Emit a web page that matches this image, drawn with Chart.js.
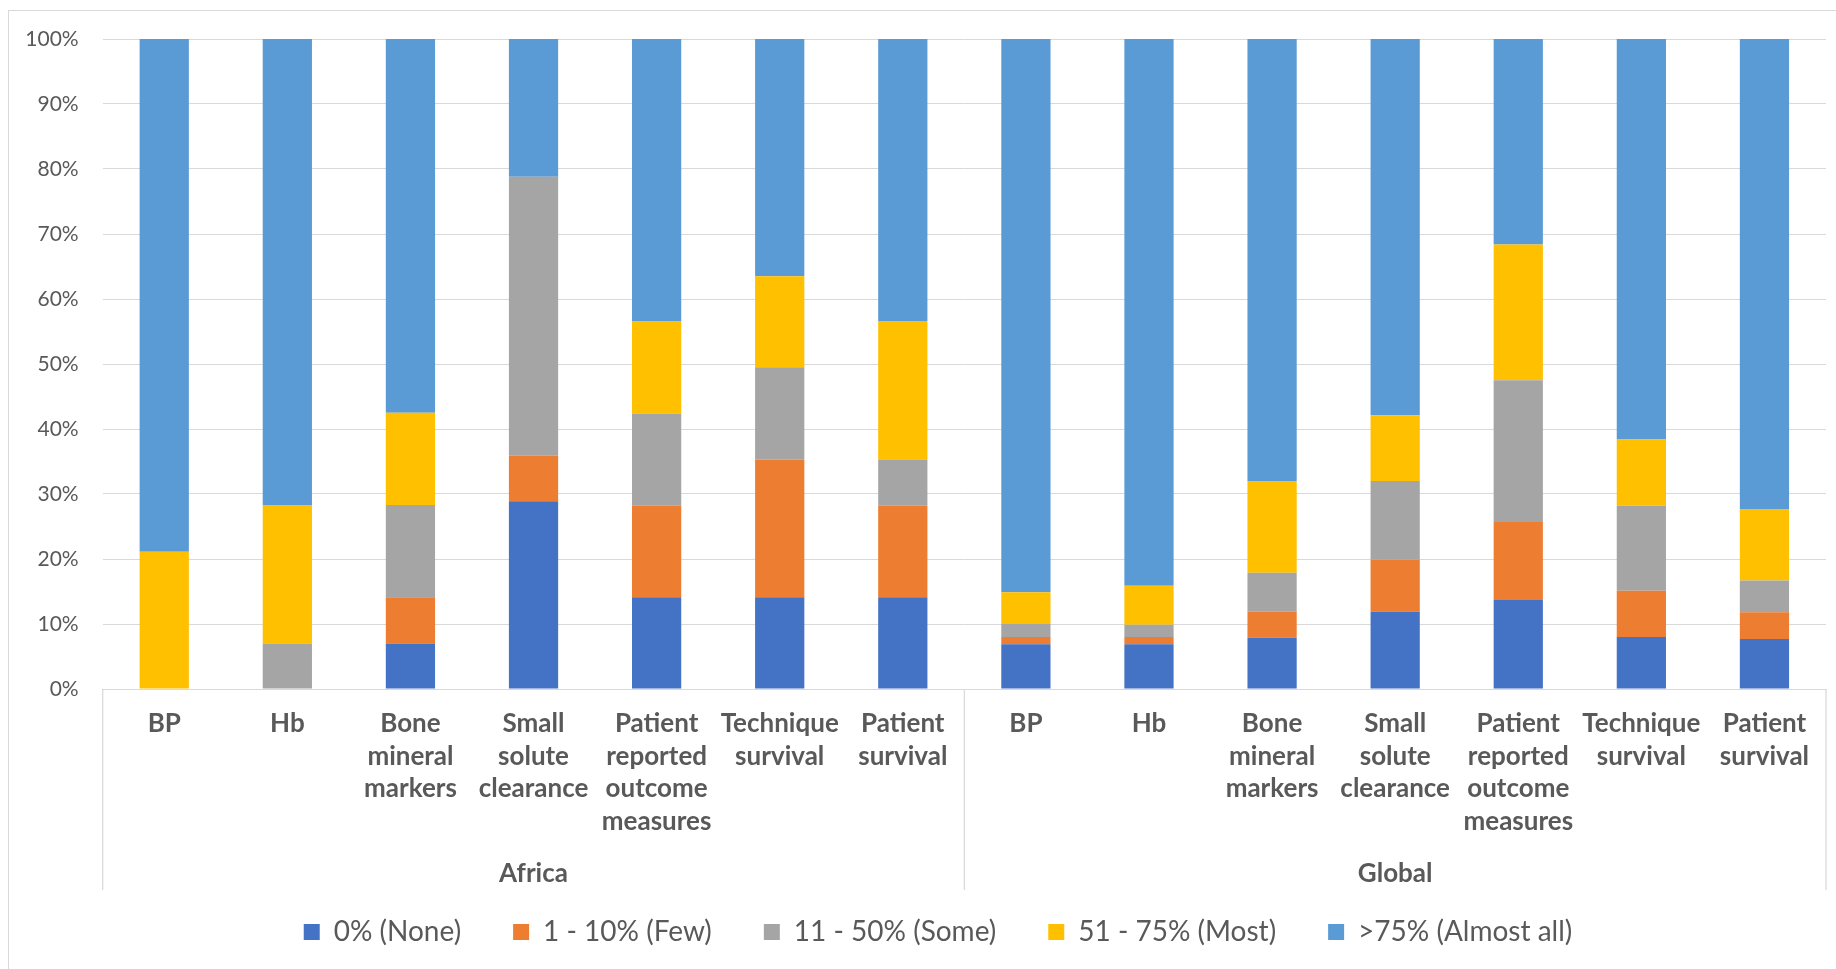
<!DOCTYPE html>
<html>
<head>
<meta charset="utf-8">
<script src="https://cdn.jsdelivr.net/npm/chart.js@4/dist/chart.umd.min.js"></script>
<style>
  html, body { margin: 0; padding: 0; background: #ffffff; overflow: hidden; }
  #frame { position: absolute; left: 8px; top: 10px; width: 1900px; height: 1000px; border: 1px solid #d9d9d9; box-sizing: border-box; }
  #c { position: absolute; left: 0; top: 0; }
</style>
</head>
<body>
<div id="frame"></div>
<canvas id="c" width="1836" height="969"></canvas>
<script>
// Categories (repeated for each region)
const categories = [
  ['BP'],
  ['Hb'],
  ['Bone', 'mineral', 'markers'],
  ['Small', 'solute', 'clearance'],
  ['Patient', 'reported', 'outcome', 'measures'],
  ['Technique', 'survival'],
  ['Patient', 'survival']
];
const regions = ['Africa', 'Global'];

const seriesNames = ['0% (None)', '1 - 10% (Few)', '11 - 50% (Some)', '51 - 75% (Most)', '>75% (Almost all)'];

// Values (%): first 7 = Africa, last 7 = Global
const none     = [0,    0,    7.0,  28.9, 14.1, 14.1, 14.1,   6.9, 6.9, 7.9, 11.9, 13.7, 8.0, 7.7];
const few      = [0,    0,    7.1,  7.0,  14.1, 21.2, 14.1,   1.1, 1.1, 4.0, 8.0,  12.0, 7.1, 4.1];
const some     = [0,    7.0,  14.2, 42.9, 14.2, 14.2, 7.1,    2.0, 1.9, 6.0, 12.1, 21.8, 13.1, 4.9];
const most     = [21.1, 21.3, 14.2, 0,    14.2, 14.0, 21.3,   4.9, 6.0, 14.1, 10.1, 20.9, 10.2, 11.0];
const almostAll= [78.9, 71.7, 57.5, 21.2, 43.4, 36.5, 43.4,   85.1, 84.1, 68.0, 57.9, 31.6, 61.6, 72.3];

const yTicks = [0, 10, 20, 30, 40, 50, 60, 70, 80, 90, 100];

const colors = ['#4472C4', '#ED7D31', '#A5A5A5', '#FFC000', '#5B9BD5'];
const seriesValues = [none, few, some, most, almostAll];

const labels = regions.flatMap(() => categories);

// Vertical separators of the two-level category axis
const separatorPlugin = {
  id: 'groupSeparators',
  afterDraw(chart) {
    const x = chart.scales.x;
    const x2 = chart.scales.x2;
    const area = chart.chartArea;
    const ctx = chart.ctx;
    const half = categories.length;
    const mid = (x.getPixelForValue(half - 1) + x.getPixelForValue(half)) / 2;
    ctx.save();
    ctx.strokeStyle = '#d9d9d9';
    ctx.lineWidth = 1.25;
    [x.left, mid, x.right].forEach(px => {
      ctx.beginPath();
      ctx.moveTo(px, area.bottom);
      ctx.lineTo(px, x2.bottom - 1);
      ctx.stroke();
    });
    ctx.restore();
  }
};

// Nudge the legend box to sit where the reference legend sits
const legendPlacement = {
  id: 'legendPlacement',
  afterLayout(chart) {
    const lg = chart.legend;
    if (!lg) return;
    lg.top -= 25; lg.bottom -= 25;
    lg.left += 25; lg.right += 25;
  }
};

Chart.defaults.font.family = 'Lato, "Liberation Sans", sans-serif';

new Chart(document.getElementById('c'), {
  type: 'bar',
  data: {
    labels: labels,
    datasets: seriesValues.map((vals, i) => ({
      label: seriesNames[i],
      data: vals,
      backgroundColor: colors[i],
      borderWidth: 0,
      barPercentage: 0.4,
      categoryPercentage: 1.0
    }))
  },
  options: {
    responsive: false,
    animation: false,
    devicePixelRatio: 1,
    layout: { padding: { top: 39, right: 10, bottom: -12, left: 0 } },
    plugins: {
      tooltip: { enabled: false },
      legend: {
        position: 'bottom',
        labels: {
          boxWidth: 16,
          boxHeight: 16,
          padding: 52,
          color: '#595959',
          font: { size: 28 }
        }
      }
    },
    scales: {
      x: {
        stacked: true,
        weight: 0,
        grid: { display: false, drawTicks: false },
        border: { display: true, color: '#d9d9d9', width: 1 },
        ticks: {
          autoSkip: false,
          maxRotation: 0,
          minRotation: 0,
          padding: 18,
          color: '#595959',
          font: { size: 26, weight: 'bold', lineHeight: 1.26 }
        },
        afterFit(scale) { scale.height = 167; }
      },
      x2: {
        type: 'category',
        position: 'bottom',
        weight: 1,
        labels: regions,
        offset: true,
        grid: { display: false, drawTicks: false },
        border: { display: false },
        ticks: {
          padding: 2,
          color: '#595959',
          font: { size: 26, weight: 'bold', lineHeight: 1.2 }
        },
        afterFit(scale) { scale.height = 35; }
      },
      y: {
        stacked: true,
        min: 0,
        max: 100,
        grid: { color: '#d9d9d9', lineWidth: 1, drawTicks: false },
        border: { display: false },
        ticks: {
          stepSize: 10,
          padding: 24,
          color: '#595959',
          font: { size: 21 },
          callback: (v) => yTicks.includes(v) ? v + '%' : ''
        },
        afterFit(scale) { scale.width = 102.7; }
      }
    }
  },
  plugins: [separatorPlugin, legendPlacement]
});
</script>
</body>
</html>
